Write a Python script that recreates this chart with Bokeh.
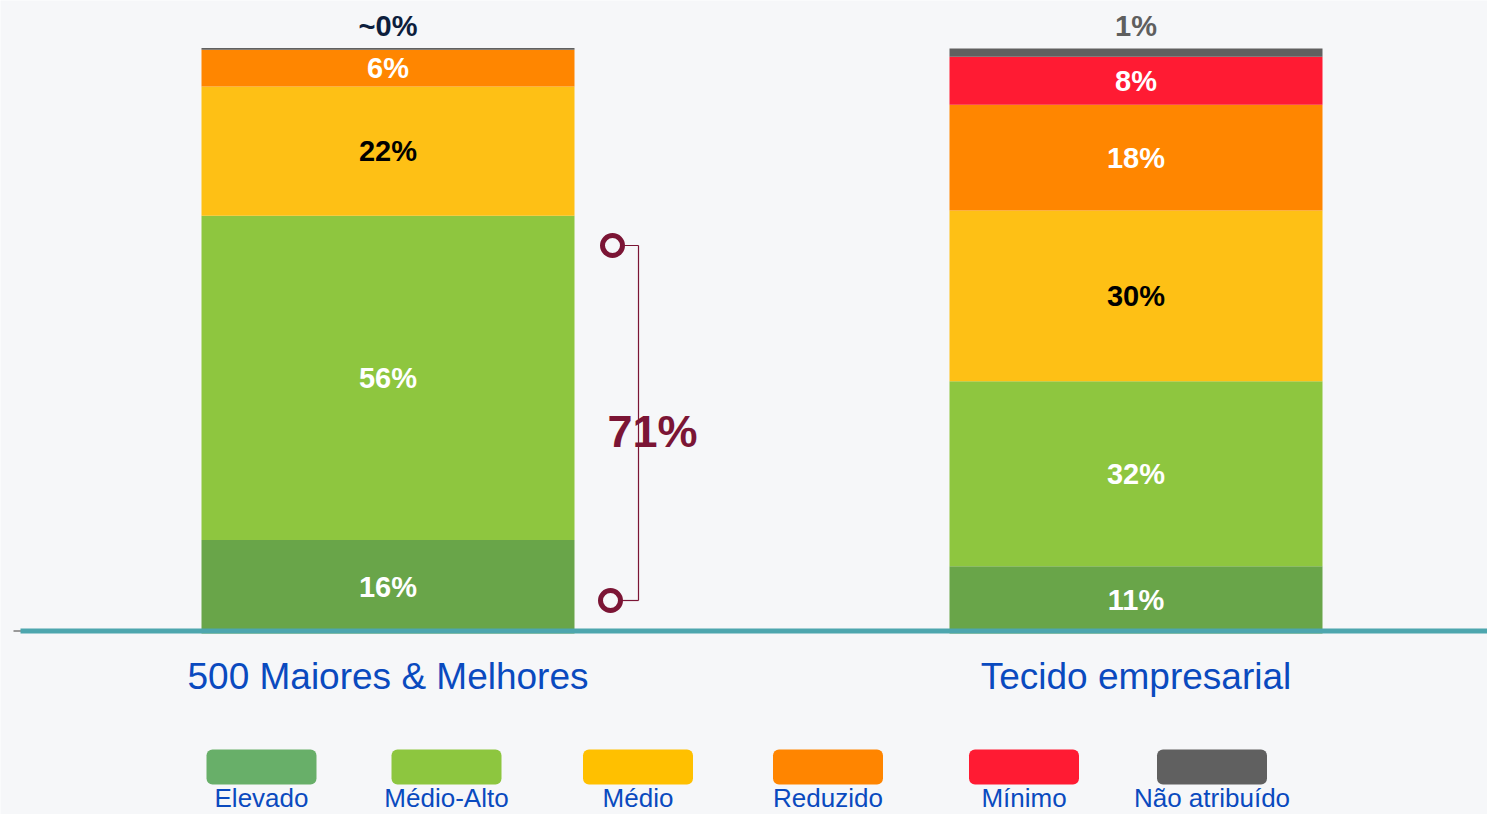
from bokeh.plotting import figure
from bokeh.models import ColumnDataSource, Range1d
from bokeh.core.properties import value
from bokeh.embed import file_html
from bokeh.resources import INLINE

# ---------------- data ----------------
groups = ["500 Maiores & Melhores", "Tecido empresarial"]
levels = ["Elevado", "Médio-Alto", "Médio", "Reduzido", "Mínimo", "Não atribuído"]
maiores = [16.0, 55.4, 22.1, 6.3, 0.0, 0.3]
tecido = [11.5, 31.6, 29.2, 18.1, 8.2, 1.4]
maiores_labels = ["16%", "56%", "22%", "6%", "", "~0%"]
tecido_labels = ["11%", "32%", "30%", "18%", "8%", "1%"]
bracket_levels = ["Elevado", "Médio-Alto"]

# ---------------- style ----------------
BG = "#F6F7F9"
bar_colors = ["#69A549", "#8EC63F", "#FEC015", "#FF8600", "#FF1B33", "#606060"]
legend_colors = ["#68AF69", "#8DC63F", "#FFC000", "#FF8500", "#FF1B33", "#606060"]
inside_text_colors = ["white", "white", "black", "white", "white", None]
top_text_colors = ["#0D1E3D", "#5F5F5F"]
MAROON = "#7B1535"
BLUE = "#0A4ABF"
TEAL = "#4DA6AE"
FONT = "Liberation Sans"

W, H = 1487, 814
PXU_X, PXU_Y = 748.0, 5.85
X0, X1 = -387.5 / PXU_X, (W - 387.5) / PXU_X
Y0, Y1 = -(H - 633) / PXU_Y, 633 / PXU_Y


def sx(px):
    return X0 + px / W * (X1 - X0)


def sy(py):
    return Y1 - py / H * (Y1 - Y0)


p = figure(width=W, height=H, x_range=Range1d(X0, X1), y_range=Range1d(Y0, Y1),
           output_backend="svg", toolbar_location=None, min_border=0,
           background_fill_color=BG, border_fill_color=BG, outline_line_color=None)
p.axis.visible = False
p.grid.visible = False

# stacked bars
xs = list(range(len(groups)))
data = {"x": xs}
for i, lv in enumerate(levels):
    data[lv] = [maiores[i], tecido[i]]
src = ColumnDataSource(data)
p.vbar_stack(levels, x="x", width=373 / PXU_X, color=bar_colors, line_color=None, source=src)

# labels in segments
series = [maiores, tecido]
series_labels = [maiores_labels, tecido_labels]
tx, ty, tt, tc = [], [], [], []
top_x, top_y, top_t, top_c = [], [], [], []
for gi, (vals, labs) in enumerate(zip(series, series_labels)):
    cum = 0.0
    for li, (v, lab) in enumerate(zip(vals, labs)):
        if li == len(vals) - 1:
            top_x.append(xs[gi])
            top_y.append(sum(vals) + 3.8)
            top_t.append(lab)
            top_c.append(top_text_colors[gi])
        elif lab:
            tx.append(xs[gi])
            ty.append(cum + v / 2)
            tt.append(lab)
            tc.append(inside_text_colors[li])
        cum += v
p.text(x=tx, y=ty, text=tt, text_color=tc, text_font=value(FONT), text_font_style="bold",
       text_font_size="29px", text_align="center", text_baseline="middle")
p.text(x=top_x, y=top_y, text=top_t, text_color=top_c, text_font=value(FONT),
       text_font_style="bold", text_font_size="29px", text_align="center", text_baseline="middle")

# baseline axis line
p.segment(x0=[sx(13)], y0=[sy(630.5)], x1=[sx(21)], y1=[sy(630.5)], line_color="#9A9A9A", line_width=2)
p.segment(x0=[sx(20)], y0=[sy(630.5)], x1=[X1], y1=[sy(630.5)], line_color=TEAL, line_width=5)

# group labels
p.text(x=xs, y=[sy(676)] * len(xs), text=groups, text_color=BLUE, text_font=value(FONT),
       text_font_size="37px", text_align="center", text_baseline="middle")

# bracket
bx_top, by_top = 612, 245
bx_bot, by_bot = 610, 600
vx = 638
p.segment(x0=[sx(bx_top + 8), sx(vx), sx(bx_bot + 8)],
          y0=[sy(by_top), sy(by_top), sy(by_bot)],
          x1=[sx(vx), sx(vx), sx(vx)],
          y1=[sy(by_top), sy(by_bot), sy(by_bot)],
          line_color=MAROON, line_width=1.2)
p.scatter(x=[sx(bx_top), sx(bx_bot)], y=[sy(by_top), sy(by_bot)], marker="circle", size=20,
          fill_color=BG, line_color=MAROON, line_width=5)
bracket_total = sum(maiores[levels.index(l)] for l in bracket_levels)
p.text(x=[sx(652)], y=[sy(431)], text=[f"{round(bracket_total)}%"], text_color=MAROON,
       text_font=value(FONT), text_font_style="bold", text_font_size="45px",
       text_align="center", text_baseline="middle")

# legend
leg_cx = [261, 446, 637.5, 827.5, 1023.5, 1211.5]
leg_w = 110
p.quad(left=[sx(c - leg_w / 2) for c in leg_cx], right=[sx(c + leg_w / 2) for c in leg_cx],
       top=[sy(749)] * len(leg_cx), bottom=[sy(784)] * len(leg_cx),
       fill_color=legend_colors, line_color=None, border_radius=6)
p.text(x=[sx(c) for c in leg_cx], y=[sy(812)] * len(leg_cx), text=levels, text_color=BLUE,
       text_font=value(FONT), text_font_size="26px", text_align="center",
       text_baseline="bottom")

open("out.html", "w").write(file_html(p, INLINE))
